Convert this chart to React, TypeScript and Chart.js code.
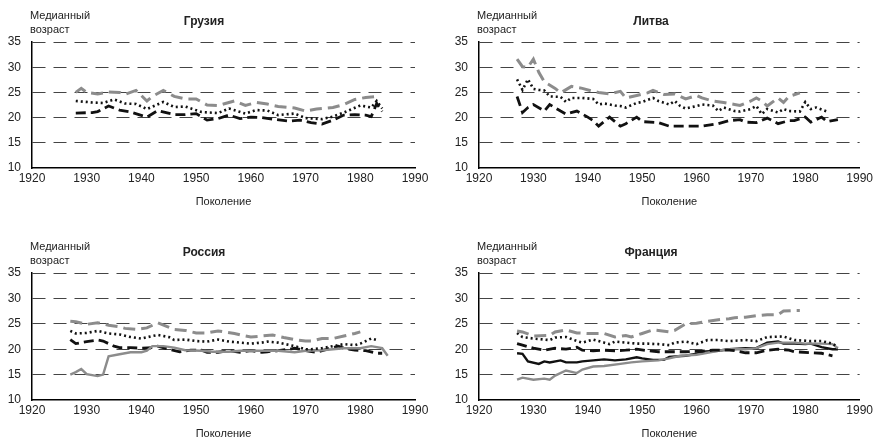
import React, { useEffect, useRef } from "react";
import { Chart, registerables } from "chart.js";
Chart.register(...registerables);

const FONT = '"Liberation Sans Narrow", "Arial Narrow", "Liberation Sans", Arial, sans-serif';

// ---------- Axis ticks ----------
const xMin = 1920, xMax = 1990, xStep = 10;
const yMin = 10, yMax = 35, yStep = 5;

// ---------- Грузия ----------
const geoGrayDashX = [1928,1929,1930,1932,1934,1936,1937,1939,1941,1942,1944,1946,1948,1950,1952,1954,1957,1959,1961,1963,1965,1968,1970,1972,1975,1977,1979,1981,1983];
const geoGrayDashY = [25.0,25.8,25.0,24.7,25.1,25.0,24.6,25.4,23.3,24.2,25.4,24.2,23.7,23.7,22.5,22.4,23.3,22.4,23.0,22.7,22.2,21.9,21.3,21.7,22.0,22.6,23.6,24.0,24.2];
const geoDotX = [1928,1931,1933,1935,1937,1939,1941,1944,1946,1948,1951,1954,1956,1959,1961,1963,1965,1968,1970,1973,1975,1977,1980,1982,1983,1984];
const geoDotY = [23.3,23.0,22.9,23.6,22.8,22.7,21.7,23.1,22.1,22.2,21.1,20.9,21.8,20.8,21.5,21.4,20.5,20.8,19.9,19.7,20.2,21.0,22.4,22.0,23.3,21.8];
const geoBlackDashX = [1928,1931,1932,1934,1936,1938,1941,1943,1946,1948,1950,1952,1954,1956,1958,1960,1962,1964,1967,1969,1971,1973,1975,1977,1979,1981,1982,1983,1984];
const geoBlackDashY = [20.9,21.0,21.2,22.3,21.5,21.1,20.1,21.4,20.6,20.6,20.8,19.5,19.8,20.5,19.8,20.1,20.0,19.7,19.3,19.5,19.0,18.7,19.5,20.5,20.6,20.5,20.2,22.8,21.2];

// ---------- Литва ----------
const litGrayDashX = [1927,1928,1929,1930,1931,1932,1934,1935,1937,1939,1941,1942,1944,1946,1947,1949,1951,1952,1954,1956,1958,1960,1961,1963,1965,1967,1968,1970,1971,1972,1973,1975,1976,1977,1979];
const litGrayDashY = [31.6,30.1,30.0,31.6,29.0,27.1,25.8,24.9,26.2,25.8,25.2,25.0,24.7,25.2,23.9,24.4,24.9,25.4,24.6,24.7,23.7,24.4,23.9,23.3,23.0,22.6,22.4,23.3,23.9,23.3,22.3,23.9,23.0,24.2,24.9];
const litDotX = [1927,1928,1929,1930,1931,1932,1933,1935,1936,1937,1939,1941,1942,1943,1945,1946,1947,1949,1950,1952,1953,1955,1956,1957,1958,1960,1961,1963,1964,1965,1967,1968,1970,1971,1972,1973,1975,1976,1977,1979,1980,1981,1982,1984];
const litDotY = [27.6,25.5,27.6,25.7,25.5,25.4,24.2,24.1,23.1,23.9,23.9,23.7,22.6,22.8,22.4,22.3,22.0,22.9,23.1,23.9,23.3,22.6,23.3,22.3,21.8,22.3,22.6,22.4,21.3,22.0,21.3,21.2,21.7,22.3,20.7,21.7,21.0,21.7,21.3,21.2,23.1,21.7,22.0,21.2];
const litBlackDashX = [1927,1928,1929,1930,1932,1933,1935,1936,1938,1940,1941,1942,1944,1946,1947,1949,1950,1953,1955,1957,1959,1961,1964,1966,1968,1969,1971,1973,1974,1975,1977,1978,1980,1981,1983,1984,1986];
const litBlackDashY = [24.2,21.0,22.0,22.6,21.3,22.6,21.3,20.7,21.3,20.1,19.4,18.3,20.1,18.3,18.8,20.1,19.2,19.0,18.3,18.3,18.3,18.3,18.8,19.4,19.6,19.1,19.0,19.9,19.4,18.8,19.4,19.4,20.1,19.1,20.1,19.2,19.6];

// ---------- Россия ----------
const rusGrayDashX = [1927,1928,1930,1932,1934,1936,1937,1939,1941,1943,1946,1948,1950,1952,1954,1957,1959,1960,1962,1964,1966,1968,1970,1971,1973,1975,1977,1979,1980];
const rusGrayDashY = [25.5,25.4,24.9,25.2,24.7,24.4,24.1,23.9,24.2,25.2,23.9,23.7,23.2,23.2,23.6,23.1,22.6,22.4,22.6,22.8,22.3,21.9,21.6,21.6,22.1,22.1,22.6,23.1,23.4];
const rusDotX = [1927,1928,1930,1931,1932,1934,1936,1938,1940,1942,1943,1945,1946,1948,1950,1952,1954,1956,1958,1960,1962,1963,1965,1968,1970,1971,1973,1975,1977,1979,1980,1981,1982,1983];
const rusDotY = [23.6,23.1,23.2,23.4,23.6,23.1,22.9,22.4,22.1,22.6,22.8,22.4,21.8,21.9,21.6,21.5,21.9,21.5,21.3,21.1,21.3,21.5,21.3,20.6,20.0,20.0,20.2,20.6,21.0,20.8,21.1,21.6,22.1,21.8];
const rusBlackDashX = [1927,1928,1930,1932,1933,1935,1936,1938,1940,1942,1943,1945,1947,1949,1951,1952,1954,1956,1958,1960,1962,1963,1965,1967,1968,1970,1972,1974,1976,1977,1979,1981,1983,1984];
const rusBlackDashY = [21.9,21.1,21.5,21.8,21.6,20.6,20.3,20.3,20.2,20.3,20.6,20.0,19.5,19.8,19.8,19.4,19.4,19.7,19.4,19.7,19.4,19.5,19.7,20.0,20.2,19.7,19.4,20.0,20.6,20.2,19.8,19.7,19.2,19.2];
const rusGraySolidX = [1927,1928,1929,1930,1932,1933,1934,1936,1938,1940,1941,1942,1944,1946,1948,1951,1953,1956,1958,1960,1963,1965,1968,1970,1973,1975,1977,1980,1982,1984,1985];
const rusGraySolidY = [15.0,15.5,16.1,15.1,14.7,15.0,18.6,19.0,19.4,19.4,19.7,20.6,20.6,20.3,19.8,19.7,19.5,19.5,19.7,19.7,19.7,19.7,19.4,19.7,19.8,20.0,20.2,20.2,20.6,20.2,18.7];

// ---------- Франция ----------
const fraGrayDashX = [1927,1928,1930,1933,1934,1936,1938,1940,1941,1943,1945,1947,1948,1950,1952,1953,1955,1956,1958,1960,1961,1964,1966,1967,1969,1971,1973,1975,1976,1978,1979];
const fraGrayDashY = [23.6,23.4,22.6,22.7,23.4,23.8,23.2,23.1,23.1,23.1,22.4,22.7,22.4,23.1,23.8,23.7,23.4,23.7,25.0,25.1,25.3,25.8,26.0,26.2,26.3,26.6,26.8,26.8,27.5,27.6,27.6];
const fraDotX = [1927,1928,1930,1933,1934,1936,1938,1939,1941,1942,1944,1945,1947,1949,1951,1953,1955,1956,1958,1960,1962,1964,1966,1969,1971,1973,1976,1978,1981,1983,1985,1986];
const fraDotY = [23.2,22.4,22.1,21.8,22.3,22.4,21.6,21.3,21.9,21.6,21.0,21.5,21.3,21.1,21.1,21.0,20.8,21.3,21.5,21.0,21.8,21.8,21.6,21.8,21.6,22.4,22.5,21.8,21.6,21.6,21.1,20.4];
const fraBlackDashX = [1927,1928,1930,1932,1934,1936,1938,1939,1941,1943,1945,1947,1949,1951,1953,1956,1958,1961,1963,1966,1967,1969,1971,1973,1975,1977,1978,1981,1983,1985];
const fraBlackDashY = [21.1,20.8,20.2,19.8,20.2,20.0,20.4,19.8,19.7,19.8,19.7,19.8,20.0,19.7,19.5,19.5,19.5,19.6,19.8,19.8,19.7,19.3,19.3,19.8,20.0,19.8,19.5,19.3,19.2,18.7];
const fraBlackSolidX = [1927,1928,1929,1931,1932,1933,1935,1936,1938,1939,1941,1943,1945,1947,1949,1950,1952,1954,1955,1958,1960,1961,1964,1966,1969,1971,1973,1975,1976,1978,1980,1981,1983,1985,1986];
const fraBlackSolidY = [19.2,19.1,17.6,17.1,17.6,17.4,17.8,17.4,17.4,17.6,17.8,18.0,17.8,18.0,18.4,18.2,17.9,17.9,18.5,18.7,19.1,19.5,19.7,20.0,20.2,20.2,21.3,21.5,21.1,21.1,21.0,21.1,20.4,20.0,20.0];
const fraGraySolidX = [1927,1928,1930,1932,1933,1934,1936,1938,1939,1941,1943,1946,1948,1950,1953,1955,1957,1960,1962,1964,1966,1969,1971,1973,1975,1978,1980,1983,1985,1986];
const fraGraySolidY = [14.0,14.4,14.0,14.2,14.0,14.8,15.8,15.3,16.0,16.6,16.7,17.1,17.4,17.6,17.8,18.2,18.7,18.9,19.3,19.7,20.0,20.0,20.2,21.0,21.3,21.3,21.1,21.1,21.0,20.2];

type Kind = "grayDash" | "dot" | "blackDash" | "blackSolid" | "graySolid";
type Series = { kind: Kind; x: number[]; y: number[] };

const STYLES: Record<Kind, any> = {
  grayDash: { borderColor: "#8c8c8c", borderWidth: 3, borderDash: [12, 6] },
  dot: { borderColor: "#111", borderWidth: 2.6, borderDash: [2, 3] },
  blackDash: { borderColor: "#111", borderWidth: 2.8, borderDash: [10, 5] },
  blackSolid: { borderColor: "#111", borderWidth: 2.4, borderDash: [] },
  graySolid: { borderColor: "#8c8c8c", borderWidth: 2.4, borderDash: [] },
};

type PanelProps = {
  left: number; top: number;
  caLeft: number; caTop: number; caRight: number; caBottom: number;
  title: string; series: Series[];
};

function Panel(p: PanelProps) {
  const ref = useRef<HTMLCanvasElement>(null);
  useEffect(() => {
    const W = 438, H = 219, XH = 20;
    const textPlugin = {
      id: "panelTexts",
      afterDraw(chart: any) {
        const { ctx, chartArea: ca } = chart;
        ctx.save();
        ctx.fillStyle = "#222";
        ctx.textBaseline = "middle";
        ctx.font = `bold 12px ${FONT}`;
        ctx.textAlign = "center";
        ctx.fillText(p.title, ca.left + 172, ca.top - 20);
        ctx.font = `11px ${FONT}`;
        ctx.textAlign = "left";
        ctx.fillText("Медианный", ca.left - 2, ca.top - 26);
        ctx.fillText("возраст", ca.left - 2, ca.top - 12);
        ctx.font = `11px ${FONT}`;
        ctx.textAlign = "center";
        ctx.fillText("Поколение", (ca.left + ca.right) / 2, ca.bottom + 34);
        ctx.restore();
      },
    };
    const datasets = p.series.map((s) => ({
      data: s.x.map((x, i) => ({ x, y: s.y[i] })),
      ...STYLES[s.kind],
      pointRadius: 0,
      tension: 0,
      fill: false,
    }));
    const tickFont = { family: FONT, size: 12 };
    const chart = new Chart(ref.current as HTMLCanvasElement, {
      type: "line",
      data: { datasets },
      options: {
        responsive: false,
        animation: false,
        layout: { padding: { left: 0, right: W - p.caRight, top: p.caTop, bottom: H - p.caBottom - XH } },
        plugins: { legend: { display: false }, tooltip: { enabled: false }, title: { display: false } },
        scales: {
          x: {
            type: "linear", min: xMin, max: xMax,
            ticks: { stepSize: xStep, padding: 3, font: tickFont, color: "#222", callback: (v: any) => String(v), maxRotation: 0 },
            grid: { display: false, drawTicks: false },
            border: { display: true, color: "#000", width: 1.5 },
            afterFit: (s: any) => { s.height = XH; },
          },
          y: {
            min: yMin, max: yMax,
            ticks: { stepSize: yStep, padding: 11, font: tickFont, color: "#222" },
            grid: {
              color: (c: any) => (c.tick && c.tick.value === yMin ? "rgba(0,0,0,0)" : "#444"),
              lineWidth: 1, drawTicks: false,
            },
            border: { display: true, color: "#000", width: 1.5, dash: [13, 8] },
            afterFit: (s: any) => { s.width = p.caLeft; },
          },
        },
      } as any,
      plugins: [textPlugin],
    });
    return () => chart.destroy();
  }, []);
  return (
    <canvas
      ref={ref}
      width={438}
      height={219}
      style={{ position: "absolute", left: p.left, top: p.top, width: 438, height: 219 }}
    />
  );
}

export default function App() {
  return (
    <div style={{ position: "absolute", left: 0, top: 0, width: 876, height: 438, background: "#fff", overflow: "hidden" }}>
      <Panel left={0} top={0} caLeft={32} caTop={42} caRight={415} caBottom={168} title="Грузия"
        series={[
          { kind: "grayDash", x: geoGrayDashX, y: geoGrayDashY },
          { kind: "dot", x: geoDotX, y: geoDotY },
          { kind: "blackDash", x: geoBlackDashX, y: geoBlackDashY },
        ]} />
      <Panel left={438} top={0} caLeft={41} caTop={42} caRight={424} caBottom={168} title="Литва"
        series={[
          { kind: "grayDash", x: litGrayDashX, y: litGrayDashY },
          { kind: "dot", x: litDotX, y: litDotY },
          { kind: "blackDash", x: litBlackDashX, y: litBlackDashY },
        ]} />
      <Panel left={0} top={219} caLeft={32} caTop={54} caRight={415} caBottom={181} title="Россия"
        series={[
          { kind: "grayDash", x: rusGrayDashX, y: rusGrayDashY },
          { kind: "dot", x: rusDotX, y: rusDotY },
          { kind: "graySolid", x: rusGraySolidX, y: rusGraySolidY },
          { kind: "blackDash", x: rusBlackDashX, y: rusBlackDashY },
        ]} />
      <Panel left={438} top={219} caLeft={41} caTop={54} caRight={424} caBottom={181} title="Франция"
        series={[
          { kind: "grayDash", x: fraGrayDashX, y: fraGrayDashY },
          { kind: "dot", x: fraDotX, y: fraDotY },
          { kind: "blackDash", x: fraBlackDashX, y: fraBlackDashY },
          { kind: "graySolid", x: fraGraySolidX, y: fraGraySolidY },
          { kind: "blackSolid", x: fraBlackSolidX, y: fraBlackSolidY },
        ]} />
    </div>
  );
}
